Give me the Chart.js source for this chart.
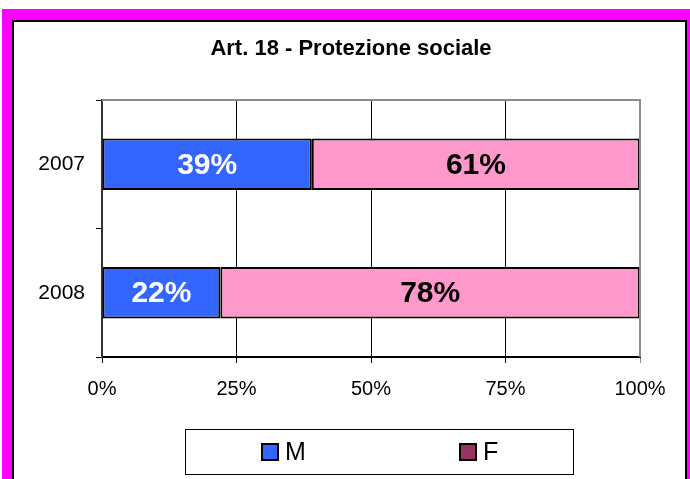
<!DOCTYPE html>
<html>
<head>
<meta charset="utf-8">
<script src="https://cdn.jsdelivr.net/npm/chart.js@4"></script>
<style>
  body { margin: 0; background: #fff; }
  #wrap { width: 690px; height: 479px; position: relative; }
</style>
</head>
<body>
<div id="wrap"><canvas id="chart" width="690" height="479"></canvas></div>
<script>
const years = ["2007", "2008"]
const maleValues = [39, 22]
const femaleValues = [61, 78]
const xTicks = [0, 25, 50, 75, 100]
const title = "Art. 18 - Protezione sociale"

const FONT = "Arial, 'Liberation Sans', sans-serif"

// frame, title, top/right border, bar labels and the boxed legend
const decor = {
  id: "decor",
  beforeDraw(chart) {
    const ctx = chart.ctx
    ctx.save()
    ctx.fillStyle = "#fff"
    ctx.fillRect(0, 0, 690, 479)
    ctx.fillStyle = "#ff00ff"
    ctx.fillRect(2, 9, 688, 470)
    ctx.fillStyle = "#000"
    ctx.fillRect(12, 20, 675, 459)
    ctx.fillStyle = "#fff"
    ctx.fillRect(14, 22, 671, 457)

    ctx.fillStyle = "#000"
    ctx.font = "bold 22px " + FONT
    ctx.textAlign = "center"
    ctx.textBaseline = "middle"
    ctx.fillText(title, 351, 49)
    ctx.restore()
  },
  afterDatasetsDraw(chart) {
    const ctx = chart.ctx
    const a = chart.chartArea
    ctx.save()
    // grey border top and right
    ctx.strokeStyle = "#8c8c8c"
    ctx.lineWidth = 2
    ctx.beginPath()
    ctx.moveTo(a.left, a.top)
    ctx.lineTo(a.right, a.top)
    ctx.lineTo(a.right, a.bottom)
    ctx.stroke()

    ctx.font = "bold 30px " + FONT
    ctx.textAlign = "center"
    ctx.textBaseline = "middle"
    chart.data.datasets.forEach((ds, di) => {
      chart.getDatasetMeta(di).data.forEach((bar, i) => {
        const cx = (bar.x + bar.base) / 2
        ctx.fillStyle = di === 0 ? "#fff" : "#000"
        ctx.fillText(ds.data[i] + "%", cx, bar.y + 1)
      })
    })

    // legend
    ctx.strokeStyle = "#000"
    ctx.lineWidth = 1
    ctx.strokeRect(185.5, 429.5, 388, 45)
    const items = [["M", "#3366ff", 262], ["F", "#993366", 460]]
    ctx.font = "25px " + FONT
    ctx.textAlign = "left"
    items.forEach(([label, color, x]) => {
      ctx.fillStyle = color
      ctx.fillRect(x, 444, 16, 16)
      ctx.lineWidth = 2
      ctx.strokeRect(x, 444, 16, 16)
      ctx.fillStyle = "#000"
      ctx.fillText(label, x + 23, 453)
    })
    ctx.restore()
  }
}

new Chart(document.getElementById("chart"), {
  type: "bar",
  data: {
    labels: years,
    datasets: [
      { label: "M", data: maleValues, backgroundColor: "#3366ff", borderColor: "#000", borderWidth: 2, borderSkipped: false },
      { label: "F", data: femaleValues, backgroundColor: "#ff99cc", borderColor: "#000", borderWidth: 2, borderSkipped: false }
    ]
  },
  options: {
    indexAxis: "y",
    responsive: false,
    animation: false,
    layout: { padding: { left: 12, right: 50, top: 100, bottom: 82 } },
    plugins: { legend: { display: false }, title: { display: false }, tooltip: { enabled: false } },
    datasets: { bar: { categoryPercentage: 1, barPercentage: 0.4 } },
    scales: {
      x: {
        stacked: true,
        min: 0,
        max: 100,
        afterBuildTicks: s => { s.ticks = xTicks.map(v => ({ value: v })) },
        afterFit: s => { s.height = 40 },
        ticks: { callback: v => v + "%", color: "#000", font: { family: FONT, size: 20 }, padding: 14 },
        grid: { color: ctx => ctx.tick && ctx.tick.value === 100 ? "#8c8c8c" : "#000", lineWidth: 1, tickLength: 6 },
        border: { color: "#000", width: 2 }
      },
      y: {
        stacked: true,
        afterFit: s => { s.width = 90 },
        ticks: { color: "#000", font: { family: FONT, size: 21 }, padding: 11 },
        grid: { offset: true, drawOnChartArea: false, color: "#000", tickLength: 6 },
        border: { color: "#333", width: 2 }
      }
    }
  },
  plugins: [decor]
})
</script>
</body>
</html>
